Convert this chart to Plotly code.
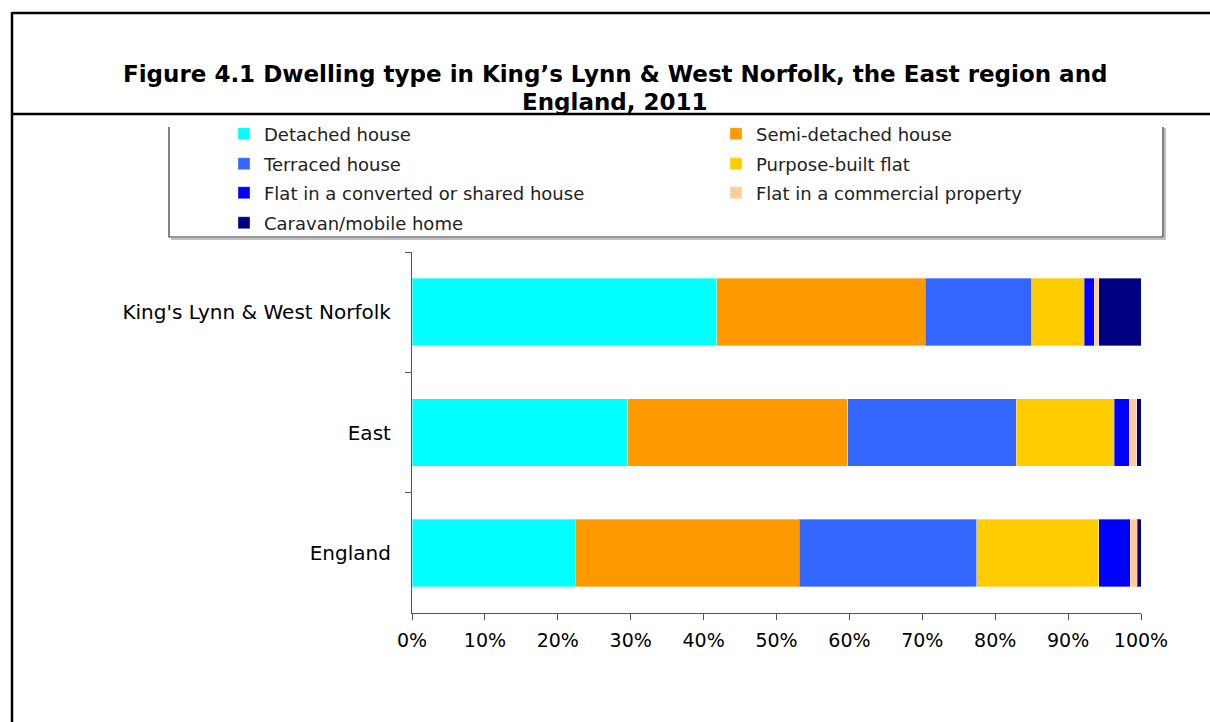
import plotly.graph_objects as go

W, H = 1210, 722

areas = ["King's Lynn & West Norfolk", "East", "England"]

detached = [41.8, 29.6, 22.4]
semi_detached = [28.6, 30.2, 30.7]
terraced = [14.6, 23.1, 24.4]
purpose_built = [7.2, 13.4, 16.7]
converted_flat = [1.4, 2.1, 4.3]
commercial_flat = [0.6, 1.0, 1.0]
caravan = [5.8, 0.6, 0.5]

series_names = ["Detached house", "Semi-detached house", "Terraced house",
                "Purpose-built flat", "Flat in a converted or shared house",
                "Flat in a commercial property", "Caravan/mobile home"]
series_values = [detached, semi_detached, terraced, purpose_built,
                 converted_flat, commercial_flat, caravan]
series_colors = ["#00FFFF", "#FF9900", "#3366FF", "#FFCC00", "#0000FF", "#FFCC99", "#000080"]

x_tickvals = [0, 10, 20, 30, 40, 50, 60, 70, 80, 90, 100]
x_ticktext = ["0%", "10%", "20%", "30%", "40%", "50%", "60%", "70%", "80%", "90%", "100%"]

title_lines = ["Figure 4.1 Dwelling type in King\u2019s Lynn & West Norfolk, the East region and",
               "England, 2011"]


def PX(px):
    return px / W


def PY(py):
    return 1 - py / H


FONT = "DejaVu Sans"

# legend grid: two columns, four rows (reading order left-to-right)
legend_cols = [224, 716]
legend_rows = [134, 164, 193, 223]

fig = go.Figure()
layout_legends = {}
for i, (name, vals, col) in enumerate(zip(series_names, series_values, series_colors)):
    key = "legend" if i == 0 else f"legend{i + 1}"
    fig.add_trace(go.Bar(
        y=areas, x=vals, name=name, orientation="h",
        marker=dict(color=col, line=dict(color="rgba(255,255,255,0.35)", width=1)),
        width=0.56, legend=key, hoverinfo="x+name",
    ))
    layout_legends[key] = dict(
        orientation="v", xanchor="left", yanchor="middle",
        x=PX(legend_cols[i % 2]), y=PY(legend_rows[i // 2]),
        bgcolor="rgba(0,0,0,0)", borderwidth=0,
        font=dict(family=FONT, size=18, color="#222"),
    )

shapes = []
# outer frame
shapes.append(dict(type="line", xref="paper", yref="paper", x0=PX(12), x1=PX(12), y0=PY(12), y1=PY(722),
                   line=dict(color="black", width=2.5)))
shapes.append(dict(type="line", xref="paper", yref="paper", x0=PX(12), x1=PX(1210), y0=PY(13), y1=PY(13),
                   line=dict(color="black", width=2.5)))
shapes.append(dict(type="line", xref="paper", yref="paper", x0=PX(12), x1=PX(1210), y0=PY(114), y1=PY(114),
                   line=dict(color="black", width=2.5)))
# legend box shadow
shapes.append(dict(type="path", xref="paper", yref="paper",
                   path=f"M {PX(171)} {PY(239)} L {PX(1165)} {PY(239)} L {PX(1165)} {PY(128)}",
                   line=dict(color="#aaaaaa", width=1.5)))
# legend box
shapes.append(dict(type="path", xref="paper", yref="paper",
                   path=f"M {PX(169)} {PY(127)} L {PX(169)} {PY(237)} L {PX(1163)} {PY(237)} L {PX(1163)} {PY(127)}",
                   line=dict(color="#333333", width=1.2)))

annotations = []
for line, cy in zip(title_lines, [74, 102]):
    annotations.append(dict(
        text=line, xref="paper", yref="paper", x=PX(615), y=PY(cy),
        xanchor="center", yanchor="middle", showarrow=False,
        font=dict(family=FONT, size=23, color="black", weight="bold"),
    ))

fig.update_layout(
    width=W, height=H,
    margin=dict(l=0, r=0, t=0, b=0),
    paper_bgcolor="white", plot_bgcolor="white",
    barmode="stack",
    showlegend=True,
    shapes=shapes,
    annotations=annotations,
    xaxis=dict(
        domain=[PX(412), PX(1141)], range=[0, 100], tickvals=x_tickvals, ticktext=x_ticktext,
        showgrid=False, zeroline=False, showline=True, linecolor="#555", linewidth=1.2,
        ticks="outside", ticklen=6, tickcolor="#555", tickwidth=1.2,
        tickfont=dict(family=FONT, size=19, color="black"), ticklabelstandoff=4,
        automargin=False, fixedrange=True,
    ),
    yaxis=dict(
        domain=[PY(613), PY(252)], type="category", categoryorder="array",
        categoryarray=areas, autorange="reversed",
        tickson="boundaries", ticks="outside", ticklen=6, tickcolor="#555", tickwidth=1.2,
        showline=True, linecolor="#555", linewidth=1.2, showgrid=False, zeroline=False,
        tickfont=dict(family=FONT, size=20, color="black"), ticklabelstandoff=16,
        automargin=False, fixedrange=True,
    ),
    **layout_legends,
)

fig.write_html("out.html", config={"displayModeBar": False},
               post_script="document.body.style.margin='0';")
